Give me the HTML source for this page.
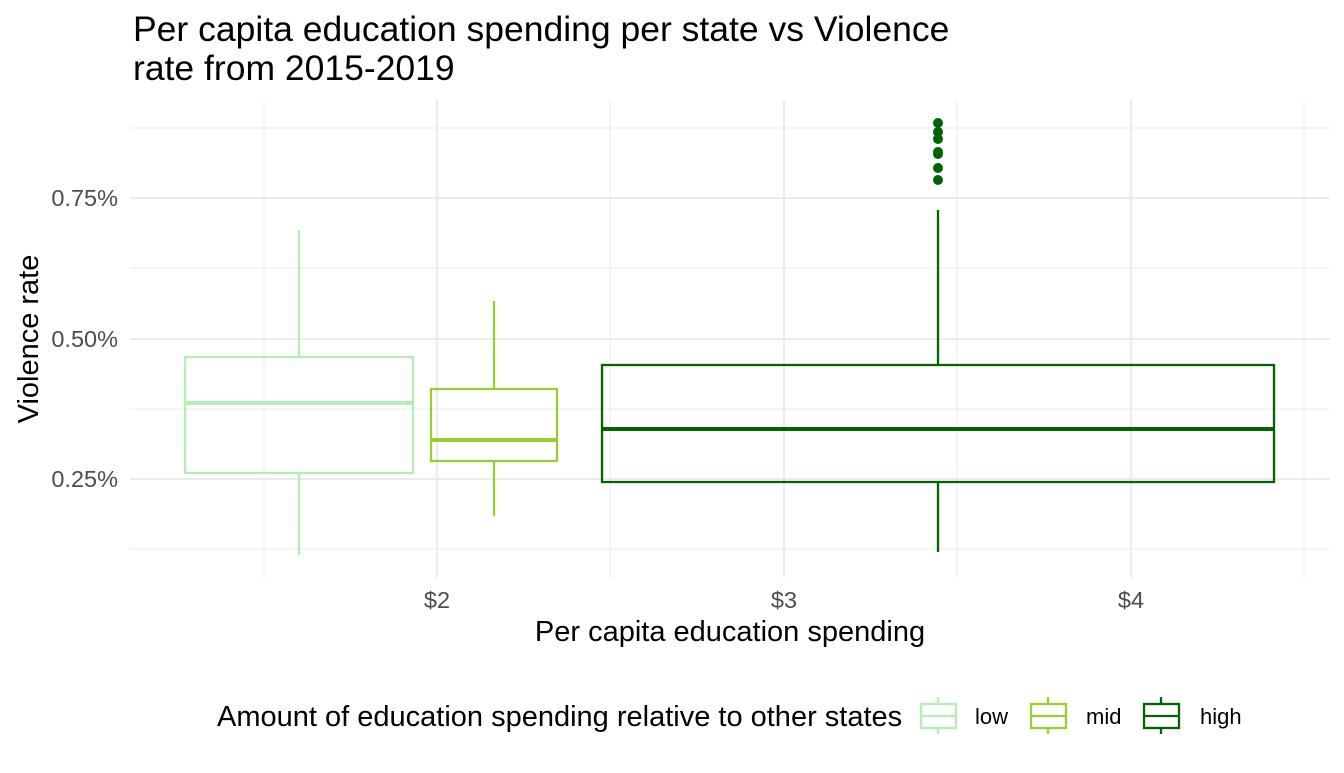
<!DOCTYPE html>
<html><head><style>body{margin:0;background:#fff}</style></head><body>
<svg width="1344" height="768" xmlns="http://www.w3.org/2000/svg" font-family="Liberation Sans, sans-serif">
<rect width="1344" height="768" fill="#fff"/>
<g stroke="#ebebeb" stroke-width="1">
<line x1="130" x2="1330" y1="128" y2="128"/><line x1="130" x2="1330" y1="268" y2="268"/>
<line x1="130" x2="1330" y1="409" y2="409"/><line x1="130" x2="1330" y1="549" y2="549"/>
<line x1="264" x2="264" y1="100" y2="578"/><line x1="610" x2="610" y1="100" y2="578"/>
<line x1="957" x2="957" y1="100" y2="578"/><line x1="1304" x2="1304" y1="100" y2="578"/>
</g>
<g stroke="#ebebeb" stroke-width="2">
<line x1="130" x2="1330" y1="198" y2="198"/><line x1="130" x2="1330" y1="339" y2="339"/>
<line x1="130" x2="1330" y1="479" y2="479"/>
<line x1="437" x2="437" y1="100" y2="578"/><line x1="784" x2="784" y1="100" y2="578"/>
<line x1="1131" x2="1131" y1="100" y2="578"/>
</g>
<g fill="none" stroke="#b4eeb4" stroke-width="2.3">
<line x1="299" x2="299" y1="230" y2="357"/><line x1="299" x2="299" y1="473" y2="555"/>
<rect x="185" y="357" width="228" height="116"/><line x1="185" x2="413" y1="403" y2="403" stroke-width="4"/>
</g>
<g fill="none" stroke="#9acd32" stroke-width="2.3">
<line x1="494" x2="494" y1="301" y2="389"/><line x1="494" x2="494" y1="461" y2="516"/>
<rect x="431" y="389" width="126" height="72"/><line x1="431" x2="557" y1="440" y2="440" stroke-width="4"/>
</g>
<g fill="none" stroke="#006400" stroke-width="2.3">
<line x1="938" x2="938" y1="210" y2="365"/><line x1="938" x2="938" y1="482" y2="552"/>
<rect x="602" y="365" width="672" height="117"/><line x1="602" x2="1274" y1="429" y2="429" stroke-width="4"/>
</g>
<g fill="#006400">
<circle cx="938" cy="123" r="5"/><circle cx="938" cy="132" r="5"/><circle cx="938" cy="139" r="5"/>
<circle cx="938" cy="152" r="5"/><circle cx="938" cy="154" r="5"/><circle cx="938" cy="168" r="5"/><circle cx="938" cy="180" r="5"/>
</g>
<g fill="#4d4d4d" font-size="23.5" text-anchor="end">
<text x="118" y="206">0.75%</text><text x="118" y="347">0.50%</text><text x="118" y="487">0.25%</text>
</g>
<g fill="#4d4d4d" font-size="23.5" text-anchor="middle">
<text x="437" y="608">$2</text><text x="784" y="608">$3</text><text x="1131" y="608">$4</text>
</g>
<text x="730" y="641" font-size="29" text-anchor="middle">Per capita education spending</text>
<text transform="translate(38,339) rotate(-90)" font-size="29" text-anchor="middle">Violence rate</text>
<text x="133" y="41" font-size="35.5">Per capita education spending per state vs Violence</text>
<text x="133" y="80" font-size="35.5">rate from 2015-2019</text>
<text x="217" y="726" font-size="29">Amount of education spending relative to other states</text>
<g fill="none" stroke-width="2.3">
<g stroke="#b4eeb4"><rect x="921" y="704" width="35" height="24"/><line x1="921" x2="956" y1="716" y2="716"/><line x1="938" x2="938" y1="697" y2="704"/><line x1="938" x2="938" y1="728" y2="734"/></g>
<g stroke="#9acd32"><rect x="1031" y="704" width="35" height="24"/><line x1="1031" x2="1066" y1="716" y2="716"/><line x1="1048" x2="1048" y1="697" y2="704"/><line x1="1048" x2="1048" y1="728" y2="734"/></g>
<g stroke="#006400"><rect x="1144" y="704" width="35" height="24"/><line x1="1144" x2="1179" y1="716" y2="716"/><line x1="1161" x2="1161" y1="697" y2="704"/><line x1="1161" x2="1161" y1="728" y2="734"/></g>
</g>
<g font-size="22"><text x="975" y="724">low</text><text x="1086" y="724">mid</text><text x="1200" y="724">high</text></g>
</svg>
</body></html>
